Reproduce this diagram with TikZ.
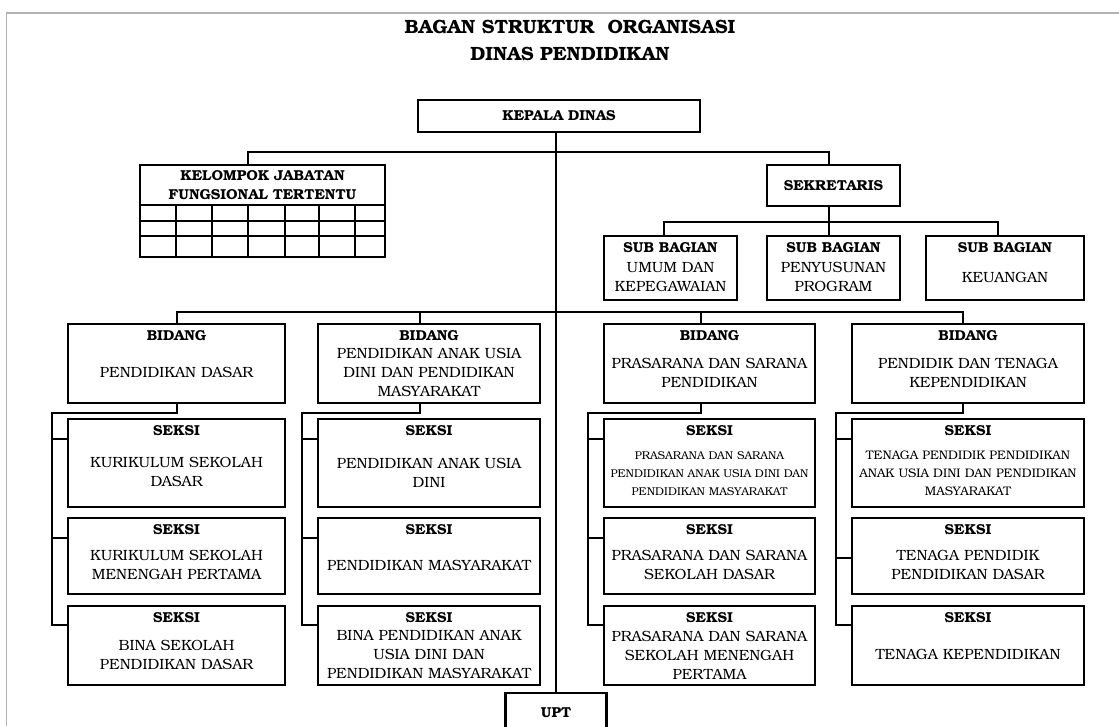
\documentclass[tikz,border=0pt]{standalone}
\usepackage{fontspec}
\setmainfont{texgyrebonum}[Extension=.otf, UprightFont=*-regular, BoldFont=*-bold, ItalicFont=*-italic, BoldItalicFont=*-bolditalic]
\usetikzlibrary{positioning}
\newcommand{\headfont}{\fontsize{14.4}{19}\selectfont\bfseries}
\newcommand{\bodyfont}{\fontsize{14.8}{19}\selectfont}
\newcommand{\smallbody}{\fontsize{11.3}{18}\selectfont}
\newcommand{\smallerbody}{\fontsize{12.4}{18}\selectfont}
\tikzset{
  unit/.style={draw, line width=2.2pt, inner xsep=0pt, inner ysep=1pt, align=center, text height=29pt, font=\bodyfont},
  unitw/.style={minimum width=#1pt, text width=#1pt},
  head/.style={anchor=north, inner sep=0pt, yshift=-7.5pt, font=\headfont},
  chief/.style={draw, line width=2.2pt, inner sep=0pt, align=center, font=\headfont},
  link/.style={line width=2pt},
  frame/.style={draw=black!30, line width=1.2pt}
}

\begin{document}
\begin{tikzpicture}[x=1pt, y=-1pt]
  \useasboundingbox (0,0) rectangle (1119,726);
  \draw[frame] (6.5,726) |- (1119,13);
  \node[font=\fontsize{19.2}{27}\selectfont\bfseries, align=center] (title) at (570,40) {BAGAN STRUKTUR\ \ ORGANISASI\\DINAS PENDIDIKAN};

  % top level
  \node[chief, minimum width=282pt, minimum height=32pt] (kepala) at (559,116) {KEPALA DINAS};
  \node[chief, minimum width=245pt, minimum height=40pt] (kjf) at (262.5,185) {KELOMPOK JABATAN\\FUNGSIONAL TERTENTU};
  \node[chief, minimum width=133pt, minimum height=41pt] (skr) at (833.5,185.5) {SEKRETARIS};
  \node[chief, minimum width=101pt, minimum height=40pt] (upt) at (556,713) {UPT};

  % table under kelompok jabatan
  \draw[link] (140,205) rectangle (385,257);
  \foreach \y in {221,236} \draw[link] (140,\y) -- (385,\y);
  \foreach \x in {176,212,248,285,319,355} \draw[link] (\x,205) -- (\x,257);

  % sub bagian
  \node[unit, unitw=133, minimum height=64pt, label={[head]90:SUB BAGIAN}] (sb1) at (670.5,268) {UMUM DAN\\KEPEGAWAIAN};
  \node[unit, unitw=133, minimum height=64pt, label={[head]90:SUB BAGIAN}] (sb2) at (833.5,268) {PENYUSUNAN\\PROGRAM};
  \node[unit, unitw=158, minimum height=64pt, label={[head]90:SUB BAGIAN}] (sb3) at (1005,268) {KEUANGAN};

  % bidang
  \node[unit, unitw=217, minimum height=79pt, label={[head]90:BIDANG}] (b1) at (176.5,363.5) {PENDIDIKAN DASAR};
  \node[unit, unitw=222, minimum height=79pt, label={[head]90:BIDANG}] (b2) at (429,363.5) {PENDIDIKAN ANAK USIA\\DINI DAN PENDIDIKAN\\MASYARAKAT};
  \node[unit, unitw=211, minimum height=79pt, label={[head]90:BIDANG}] (b3) at (709.5,363.5) {PRASARANA DAN SARANA\\PENDIDIKAN};
  \node[unit, unitw=232, minimum height=79pt, label={[head]90:BIDANG}] (b4) at (968,363.5) {PENDIDIK DAN TENAGA\\KEPENDIDIKAN};

  % seksi
  \node[unit, unitw=217, minimum height=88pt, label={[head]90:SEKSI}] (s11) at (176.5,463) {KURIKULUM SEKOLAH\\DASAR};
  \node[unit, unitw=217, minimum height=76pt, label={[head]90:SEKSI}] (s12) at (176.5,556) {KURIKULUM SEKOLAH\\MENENGAH PERTAMA};
  \node[unit, unitw=217, minimum height=79pt, label={[head]90:SEKSI}] (s13) at (176.5,645.5) {BINA SEKOLAH\\PENDIDIKAN DASAR};
  \node[unit, unitw=222, minimum height=88pt, label={[head]90:SEKSI}] (s21) at (429,463) {PENDIDIKAN ANAK USIA\\DINI};
  \node[unit, unitw=222, minimum height=76pt, label={[head]90:SEKSI}] (s22) at (429,556) {PENDIDIKAN MASYARAKAT};
  \node[unit, unitw=222, minimum height=79pt, label={[head]90:SEKSI}] (s23) at (429,645.5) {BINA PENDIDIKAN ANAK\\USIA DINI DAN\\PENDIDIKAN MASYARAKAT};
  \node[unit, unitw=211, minimum height=88pt, font=\smallbody, label={[head]90:SEKSI}] (s31) at (709.5,463) {PRASARANA DAN SARANA\\PENDIDIKAN ANAK USIA DINI DAN\\PENDIDIKAN MASYARAKAT};
  \node[unit, unitw=211, minimum height=76pt, label={[head]90:SEKSI}] (s32) at (709.5,556) {PRASARANA DAN SARANA\\SEKOLAH DASAR};
  \node[unit, unitw=211, minimum height=79pt, label={[head]90:SEKSI}] (s33) at (709.5,645.5) {PRASARANA DAN SARANA\\SEKOLAH MENENGAH\\PERTAMA};
  \node[unit, unitw=232, minimum height=88pt, font=\smallerbody, label={[head]90:SEKSI}] (s41) at (968,463) {TENAGA PENDIDIK PENDIDIKAN\\ANAK USIA DINI DAN PENDIDIKAN\\MASYARAKAT};
  \node[unit, unitw=232, minimum height=76pt, label={[head]90:SEKSI}] (s42) at (968,556) {TENAGA PENDIDIK\\PENDIDIKAN DASAR};
  \node[unit, unitw=232, minimum height=79pt, label={[head]90:SEKSI}] (s43) at (968,645.5) {TENAGA KEPENDIDIKAN};

  % connectors
  \draw[link] (upt.north) -- (upt.north |- kepala.south);
  \draw[link] ([xshift=-14.5pt]kjf.north) -- ++(0,-12) -| ([xshift=-5pt]skr.north);
  \draw[link] ([xshift=-5pt]skr.south) -- ++(0,15) -| ([xshift=-6.5pt]sb1.north);
  \draw[link] ([xshift=-5pt]skr.south) -- ++(0,15) -| ([xshift=-7pt]sb3.north);
  \draw[link] ([xshift=-5pt]skr.south) -- ([xshift=-5pt]sb2.north);
  \draw[link] (b1.north) -- ++(0,-11) -| ([xshift=-5pt]b4.north);
  \draw[link] ([xshift=-9pt]b2.north) -- ++(0,-11);
  \draw[link] ([xshift=-8.5pt]b3.north) -- ++(0,-11);
  \foreach \c/\d in {1/0,2/-9,3/-8.5,4/-5}{
    \draw[link] ([xshift=\d pt]b\c.south) -- ++(0,9) -| ([xshift=-15pt,yshift=-20pt]s\c3.north west) -- ([yshift=-20pt]s\c3.north west);
    \draw[link] ([yshift=-21pt]s\c1.north west) -- ++(-15,0);
  }
  \foreach \s in {s12,s22,s32} \draw[link] ([yshift=-21pt]\s.north west) -- ++(-15,0);
  \draw[link] ([yshift=-41pt]s42.north west) -- ++(-15,0);
\end{tikzpicture}
\end{document}
